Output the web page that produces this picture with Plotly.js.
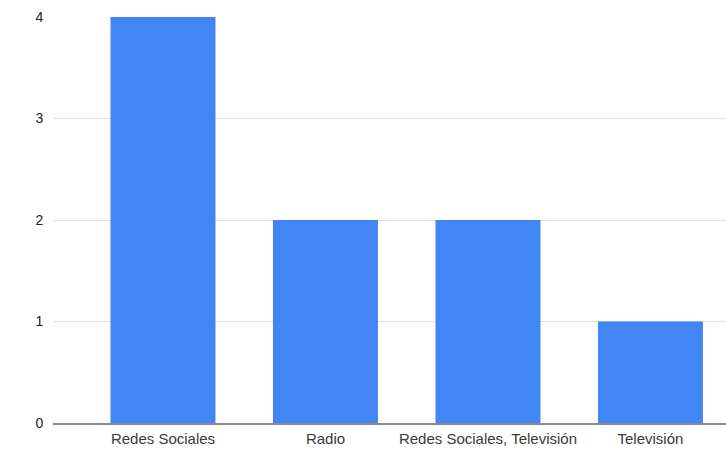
<!DOCTYPE html>
<html>
<head>
<meta charset="utf-8">
<script src="https://cdn.plot.ly/plotly-3.0.1.min.js"></script>
<style>
  html, body { margin: 0; padding: 0; background: #fff; }
  #chart { width: 726px; height: 468px; }
</style>
</head>
<body>
<div id="chart"></div>
<script>
// Media channels and how many responses named each one
const categories = ["Redes Sociales", "Radio", "Redes Sociales, Televisión", "Televisión"];
const counts = [4, 2, 2, 1];
const yTicks = [0, 1, 2, 3, 4];

const trace = {
  type: "bar",
  x: categories,
  y: counts,
  marker: { color: "#4285f4", line: { width: 0 } },
  hoverinfo: "x+y"
};

const layout = {
  width: 726,
  height: 468,
  margin: { l: 53, r: 0, t: 17, b: 45 },
  paper_bgcolor: "#ffffff",
  plot_bgcolor: "#ffffff",
  bargap: 0.354,
  showlegend: false,
  font: { family: "Arial, 'Liberation Sans', sans-serif", size: 14, color: "#222222" },
  xaxis: {
    type: "category",
    range: [-0.677, 3.465],
    showgrid: false,
    showline: true,
    linecolor: "#8a8a8a",
    linewidth: 1.5,
    ticks: "outside",
    ticklen: 1,
    tickcolor: "rgba(0,0,0,0)",
    tickfont: { size: 15, color: "#3a3a3a" },
    fixedrange: true
  },
  yaxis: {
    range: [0, 4],
    tickvals: yTicks,
    ticktext: yTicks.map(String),
    showgrid: true,
    gridcolor: "#dedede",
    gridwidth: 1,
    zeroline: false,
    showline: false,
    ticks: "outside",
    ticklen: 6,
    tickcolor: "rgba(0,0,0,0)",
    tickfont: { size: 14, color: "#222222" },
    fixedrange: true
  }
};

Plotly.newPlot("chart", [trace], layout, { displayModeBar: false, staticPlot: true });
</script>
</body>
</html>
